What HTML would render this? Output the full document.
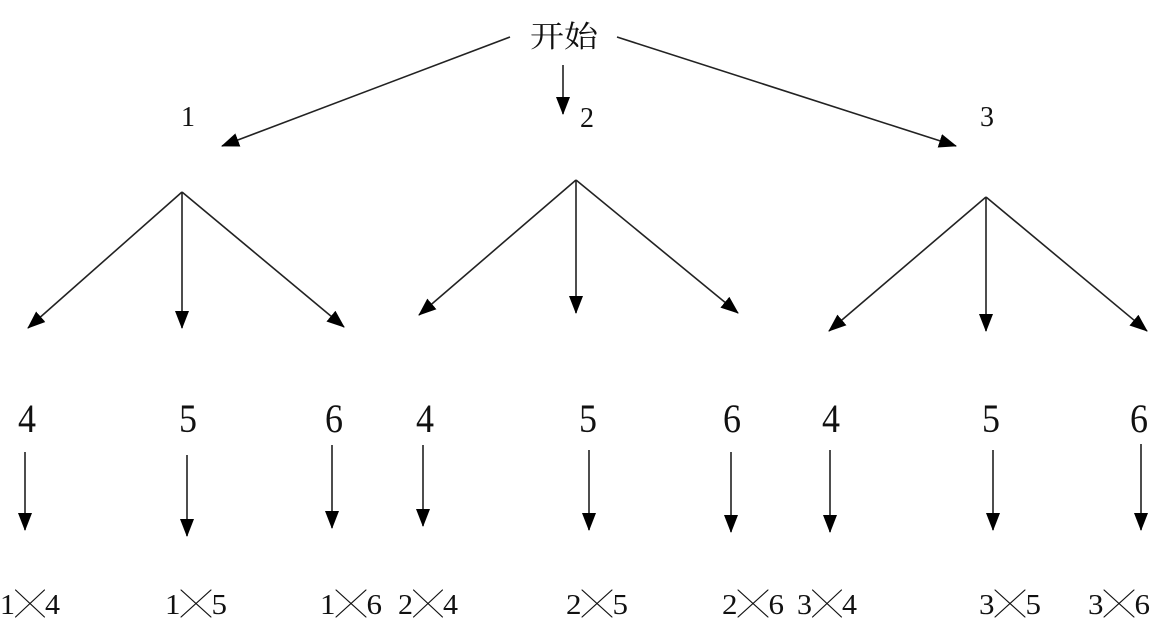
<!DOCTYPE html>
<html><head><meta charset="utf-8"><style>
html,body{margin:0;padding:0;background:#fff;}
svg{display:block;}
text{font-family:"Liberation Serif","Noto Serif CJK SC",serif;fill:#111;}
</style></head><body>
<svg width="1160" height="624" viewBox="0 0 1160 624" xmlns="http://www.w3.org/2000/svg">
<defs>
<marker id="b" markerWidth="18" markerHeight="16" refX="17" refY="8" orient="auto" markerUnits="userSpaceOnUse">
<path d="M0,1 L18,8 L0,15 Z" fill="#000"/>
</marker>
</defs>
<g stroke="#222" stroke-width="1.6" fill="none" marker-end="url(#b)">
<line x1="510" y1="37" x2="222" y2="146"/>
<line x1="563" y1="65" x2="563" y2="114"/>
<line x1="617" y1="37" x2="956" y2="146"/>
<line x1="182" y1="192" x2="28" y2="328"/>
<line x1="182" y1="192" x2="182" y2="328"/>
<line x1="182" y1="192" x2="344" y2="327"/>
<line x1="576" y1="180" x2="419" y2="315"/>
<line x1="576" y1="180" x2="576" y2="313"/>
<line x1="576" y1="180" x2="738" y2="313"/>
<line x1="986" y1="197" x2="829" y2="331"/>
<line x1="986" y1="197" x2="986" y2="331"/>
<line x1="986" y1="197" x2="1147" y2="331"/>
<line x1="25" y1="452" x2="25" y2="530"/>
<line x1="187" y1="455" x2="187" y2="536"/>
<line x1="332" y1="445" x2="332" y2="528"/>
<line x1="423" y1="445" x2="423" y2="526"/>
<line x1="589" y1="450" x2="589" y2="530"/>
<line x1="731" y1="452" x2="731" y2="532"/>
<line x1="830" y1="450" x2="830" y2="532"/>
<line x1="993" y1="450" x2="993" y2="530"/>
<line x1="1141" y1="444" x2="1141" y2="530"/>
</g>
<text x="530" y="47" font-size="30" font-family="Noto Sans CJK SC, sans-serif" textLength="68" lengthAdjust="spacingAndGlyphs">开始</text>
<g font-size="28">
<text x="181" y="126">1</text>
<text x="580" y="127">2</text>
<text x="980" y="126">3</text>
</g>
<g font-size="40" text-anchor="middle">
<text x="27" y="432" textLength="18" lengthAdjust="spacingAndGlyphs">4</text>
<text x="188" y="432" textLength="18" lengthAdjust="spacingAndGlyphs">5</text>
<text x="334" y="432" textLength="18" lengthAdjust="spacingAndGlyphs">6</text>
<text x="425" y="432" textLength="18" lengthAdjust="spacingAndGlyphs">4</text>
<text x="588" y="432" textLength="18" lengthAdjust="spacingAndGlyphs">5</text>
<text x="732" y="432" textLength="18" lengthAdjust="spacingAndGlyphs">6</text>
<text x="831" y="432" textLength="18" lengthAdjust="spacingAndGlyphs">4</text>
<text x="991" y="432" textLength="18" lengthAdjust="spacingAndGlyphs">5</text>
<text x="1139" y="432" textLength="18" lengthAdjust="spacingAndGlyphs">6</text>
</g>
<g font-size="28" font-family="Liberation Mono, 'Noto Sans CJK SC', monospace">
<text x="0" y="614" textLength="60" lengthAdjust="spacingAndGlyphs">1╳4</text>
<text x="165" y="614" textLength="62" lengthAdjust="spacingAndGlyphs">1╳5</text>
<text x="320" y="614" textLength="62" lengthAdjust="spacingAndGlyphs">1╳6</text>
<text x="398" y="614" textLength="60" lengthAdjust="spacingAndGlyphs">2╳4</text>
<text x="566" y="614" textLength="62" lengthAdjust="spacingAndGlyphs">2╳5</text>
<text x="722" y="614" textLength="62" lengthAdjust="spacingAndGlyphs">2╳6</text>
<text x="797" y="614" textLength="60" lengthAdjust="spacingAndGlyphs">3╳4</text>
<text x="979" y="614" textLength="62" lengthAdjust="spacingAndGlyphs">3╳5</text>
<text x="1088" y="614" textLength="62" lengthAdjust="spacingAndGlyphs">3╳6</text>
</g>
</svg>
</body></html>
